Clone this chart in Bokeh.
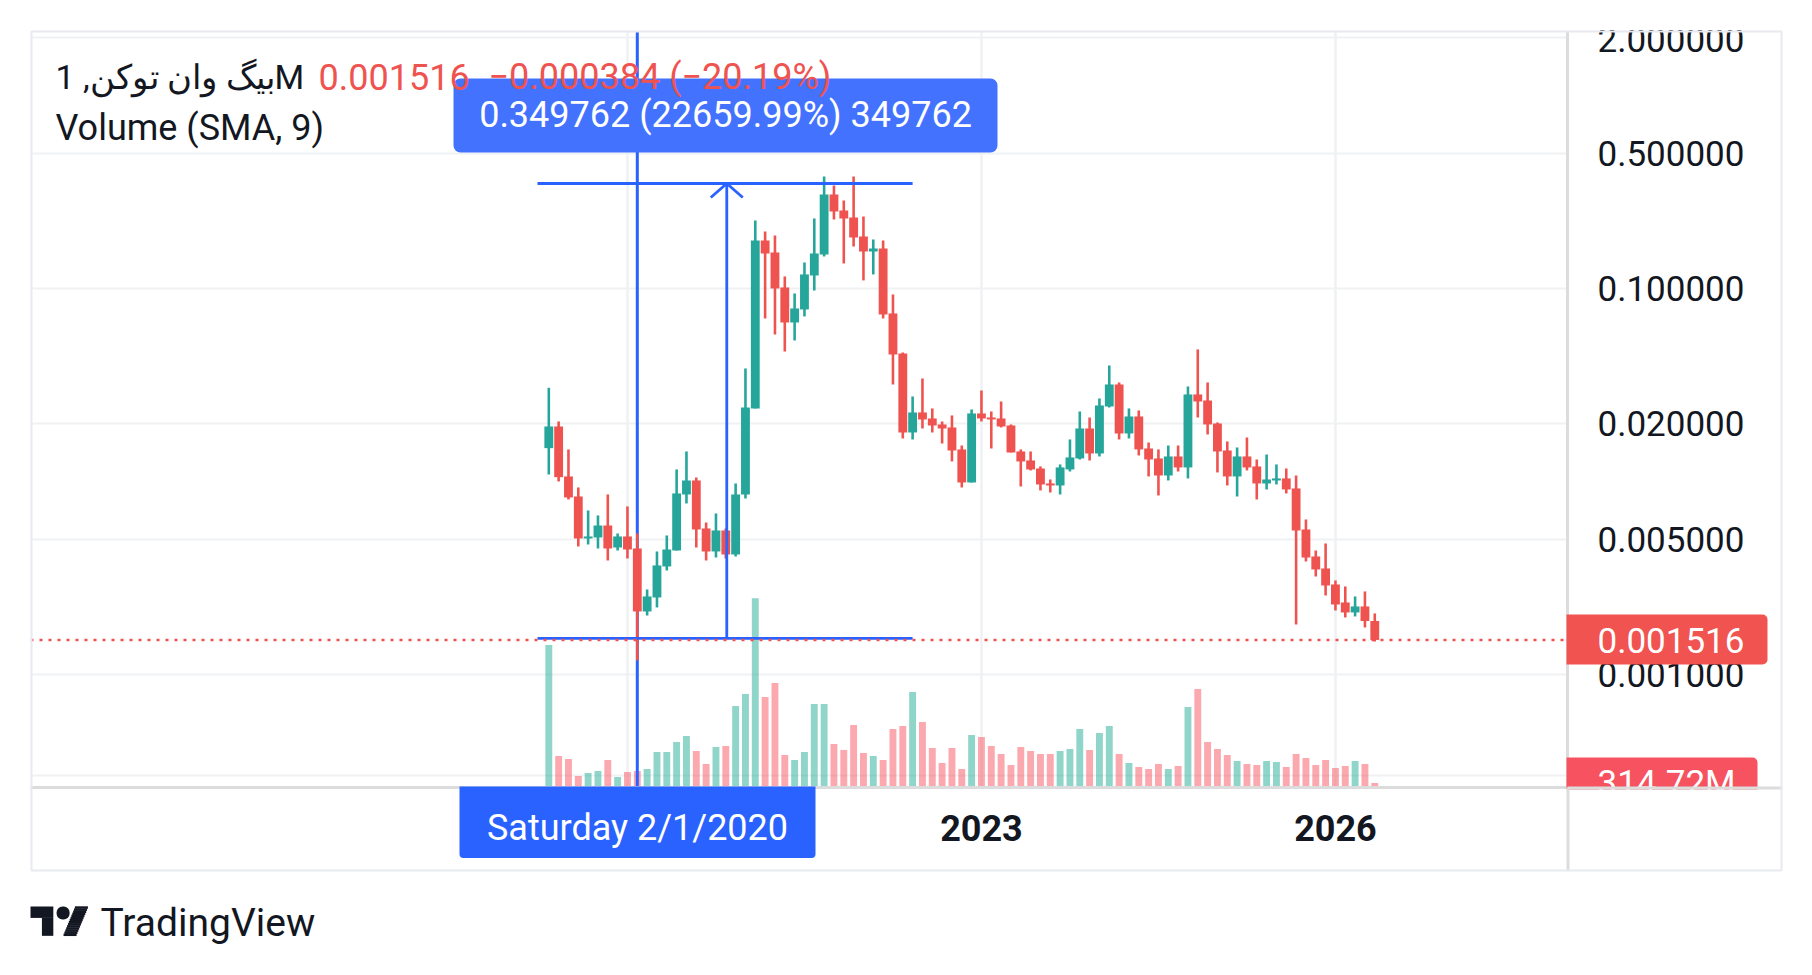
from bokeh.plotting import figure
from bokeh.models import (Range1d, LinearScale, FixedTicker, PrintfTickFormatter,
                          BoxAnnotation, Span, ColumnDataSource)
from bokeh.embed import file_html
from bokeh.resources import INLINE
from bokeh.core.properties import value
import math

# ---------------- data (monthly candles) ----------------
months = [f"{2019 + (4 + k) // 12}-{(4 + k) % 12 + 1:02d}" for k in range(85)]

opens = [0.01494, 0.01935, 0.01066, 0.008395, 0.005086, 0.005147, 0.005937, 0.004567, 0.005209, 0.004513,
         0.002129, 0.002516, 0.003642, 0.004406, 0.008598, 0.01016, 0.005730, 0.004355, 0.005595, 0.004202,
         0.008598, 0.02399, 0.1780, 0.1542, 0.1016, 0.06692, 0.07815, 0.1172, 0.1506, 0.3082,
         0.2546, 0.2342, 0.1867, 0.1561, 0.1618, 0.07452, 0.04622, 0.01801, 0.02287, 0.02129,
         0.01982, 0.01912, 0.01471, 0.009921, 0.02260, 0.02154, 0.02129, 0.01958, 0.01436, 0.01290,
         0.01172, 0.009804, 0.009572, 0.01159, 0.01321, 0.01889, 0.01402, 0.02456, 0.03193, 0.01780,
         0.02180, 0.01488, 0.01321, 0.01078, 0.01353, 0.01187, 0.02835, 0.02638, 0.02005, 0.01453,
         0.01066, 0.01353, 0.01201, 0.009804, 0.01016, 0.01041, 0.009237, 0.005662, 0.004103, 0.003556,
         0.002938, 0.002370, 0.002104, 0.002260, 0.001900]
highs = [0.03069, 0.02054, 0.01471, 0.009346, 0.007105, 0.006692, 0.008598, 0.005398, 0.007452, 0.005398,
         0.002768, 0.004355, 0.005271, 0.01159, 0.01436, 0.01053, 0.006155, 0.006853, 0.005730, 0.009804,
         0.03865, 0.2260, 0.1982, 0.1889, 0.1159, 0.09458, 0.1369, 0.2314, 0.3819, 0.3431,
         0.2869, 0.3819, 0.2370, 0.1801, 0.1780, 0.09346, 0.04678, 0.02768, 0.03431, 0.02399,
         0.02054, 0.02207, 0.01542, 0.02370, 0.02973, 0.02314, 0.02607, 0.01982, 0.01471, 0.01436,
         0.01201, 0.01028, 0.01230, 0.01657, 0.02314, 0.02154, 0.02703, 0.04006, 0.03271, 0.02399,
         0.02342, 0.01598, 0.01471, 0.01542, 0.01542, 0.03119, 0.04850, 0.03271, 0.02029, 0.01618,
         0.01506, 0.01697, 0.01305, 0.01385, 0.01230, 0.01172, 0.01078, 0.006380, 0.004406, 0.004791,
         0.003082, 0.002869, 0.002546, 0.002703, 0.002079]
lows = [0.01091, 0.01004, 0.00810, 0.004622, 0.004734, 0.004513, 0.003911, 0.004406, 0.004006, 0.001187,
        0.002029, 0.002234, 0.003472, 0.004406, 0.007722, 0.004567, 0.003911, 0.004053, 0.004006, 0.004103,
        0.008196, 0.02399, 0.07020, 0.05798, 0.04734, 0.05398, 0.07189, 0.0980, 0.1471, 0.2287,
        0.1353, 0.1657, 0.1105, 0.1187, 0.07020, 0.03193, 0.01677, 0.01657, 0.01889, 0.01801,
        0.01579, 0.01275, 0.009346, 0.009921, 0.02054, 0.01488, 0.01912, 0.01419, 0.009458, 0.01145,
        0.009018, 0.008805, 0.008598, 0.01131, 0.01305, 0.01290, 0.01353, 0.02427, 0.01657, 0.01677,
        0.01369, 0.01066, 0.008496, 0.01016, 0.01131, 0.01041, 0.02154, 0.01759, 0.01118, 0.009572,
        0.008395, 0.01145, 0.00810, 0.009127, 0.009687, 0.008702, 0.001823, 0.003865, 0.003232, 0.002576,
        0.002154, 0.001982, 0.002006, 0.001759, 0.001488]
closes = [0.01935, 0.01057, 0.008295, 0.005086, 0.005209, 0.005937, 0.004513, 0.005209, 0.004459, 0.002129,
          0.002546, 0.003686, 0.004459, 0.008702, 0.01016, 0.005662, 0.004355, 0.005595, 0.004202, 0.008598,
          0.02427, 0.1780, 0.1524, 0.1004, 0.06692, 0.07909, 0.1187, 0.1524, 0.3082, 0.2516,
          0.2314, 0.1845, 0.1561, 0.1618, 0.07362, 0.04567, 0.01801, 0.02287, 0.02104, 0.01958,
          0.01889, 0.01453, 0.009921, 0.02260, 0.02129, 0.02104, 0.01935, 0.01419, 0.01275, 0.01159,
          0.009687, 0.009572, 0.01187, 0.01337, 0.01889, 0.01402, 0.02486, 0.03193, 0.01780, 0.02180,
          0.01471, 0.01305, 0.01078, 0.01353, 0.01187, 0.02835, 0.02607, 0.01982, 0.01436, 0.01066,
          0.01353, 0.01187, 0.009804, 0.01028, 0.01041, 0.009127, 0.005595, 0.004053, 0.003514, 0.002903,
          0.002314, 0.002104, 0.002260, 0.001900, 0.001516]
volumes_m = [14805, 3150, 2835, 1050, 1365, 1575, 2730, 945, 1470, 1575,
             1785, 3570, 3570, 4620, 5250, 3675, 2310, 4095, 4200, 8400,
             9660, 19705, 9345, 10815, 3255, 2730, 3570, 8610, 8610, 4410,
             3780, 6405, 3465, 3150, 2730, 5985, 6300, 9870, 6720, 3990,
             2415, 3990, 1785, 5355, 5145, 4200, 3360, 2205, 4095, 3675,
             3360, 3360, 3675, 3885, 5985, 3780, 5565, 6300, 3360, 2415,
             1995, 1785, 2310, 1785, 2100, 8295, 10185, 4620, 3885, 3255,
             2625, 2310, 2205, 2625, 2520, 1995, 3360, 2940, 2205, 2730,
             1890, 2100, 2625, 2310, 314.72]

price_ticks = [0.001, 0.005, 0.02, 0.1, 0.5]
top_price_tick = 2.0
price_grid = [0.0003, 0.001, 0.005, 0.02, 0.1, 0.5, 2.0]
year_labels = {"2023-01": "2023", "2026-01": "2026"}
year_grid = ["2020-01", "2023-01", "2026-01"]

symbol_title = "بیگ وان توکن, 1M"
last_text = "0.001516"
change_text = "\u22120.000384 (\u221220.19%)"
volume_title = "Volume (SMA, 9)"
last_volume_text = "314.72M"
crosshair_month = "2020-02"
crosshair_text = "Saturday 2/1/2020"
measure_low, measure_high = 0.0015435, 0.3513
measure_from, measure_to, measure_at = -1.15, 37.0, 18.1
measure_text = "0.349762 (22659.99%) 349762"
brand_text = "TradingView"

# ---------------- geometry (page pixels) ----------------
CANVAS_X, CANVAS_Y, CANVAS_W, CANVAS_H = 30, 30, 1753, 925
FRAME_L, FRAME_R, FRAME_T, FRAME_B = 30, 1567, 31, 787
BAR0_PX, BAR_PX = 548.3, 9.833
P_REF, P_REF_PX, DEC_PX = 0.1, 288.3, 193.0
VOL_ZERO_PX, VOL_PER_PX = 785.5, 105.0


def xd(px):
    return (px - BAR0_PX) / BAR_PX


def yd(py):
    return P_REF * 10 ** (-(py - P_REF_PX) / DEC_PX)


def py_of(price):
    return P_REF_PX - (math.log10(price) - math.log10(P_REF)) * DEC_PX


GREEN, RED = "#26A69A", "#EF5350"
TEXT = "#131722"
BLUE = "#2962FF"
SEP = "#DCDCDC"

idx = list(range(len(months)))
up = [c >= o for o, c in zip(opens, closes)]
src = ColumnDataSource(dict(
    x=idx, o=opens, h=highs, l=lows, c=closes, vol=volumes_m,
    btop=[max(o, c) for o, c in zip(opens, closes)],
    bbot=[min(o, c) for o, c in zip(opens, closes)],
    color=[GREEN if u else RED for u in up],
    vcolor=["#22AB94" if u else "#F7525F" for u in up],
))

p = figure(width=CANVAS_W, height=CANVAS_H, title=None,
           x_range=Range1d(xd(FRAME_L), xd(FRAME_R)),
           y_range=Range1d(yd(FRAME_B), yd(FRAME_T)),
           y_axis_type="log", y_axis_location="right",
           output_backend="svg", toolbar_location=None,
           min_border_left=0, min_border_top=FRAME_T - CANVAS_Y,
           min_border_right=CANVAS_W - (FRAME_R - CANVAS_X),
           min_border_bottom=CANVAS_H - (FRAME_B - CANVAS_Y),
           margin=(CANVAS_Y, 0, 0, CANVAS_X))
p.background_fill_color = "white"
p.border_fill_color = "white"
p.outline_line_color = None

p.extra_y_ranges = {"vol": Range1d(-(FRAME_B - VOL_ZERO_PX) * VOL_PER_PX,
                                   (VOL_ZERO_PX - FRAME_T) * VOL_PER_PX)}
p.extra_y_scales = {"vol": LinearScale()}

# axes
yax = p.yaxis[0]
yax.ticker = FixedTicker(ticks=price_ticks)
yax.formatter = PrintfTickFormatter(format="%.6f")
yax.major_label_text_font = "Roboto"
yax.major_label_text_font_size = "35px"
yax.major_label_text_color = TEXT
yax.major_tick_line_color = None
yax.minor_tick_line_color = None
yax.major_tick_out = 0
yax.major_label_standoff = 30
yax.axis_line_color = SEP
yax.axis_line_width = 3

xax = p.xaxis[0]
xax.ticker = FixedTicker(ticks=[months.index(m) for m in year_labels])
xax.major_label_overrides = {months.index(m): t for m, t in year_labels.items()}
xax.major_label_text_font = "Roboto"
xax.major_label_text_font_style = "bold"
xax.major_label_text_font_size = "36px"
xax.major_label_text_color = TEXT
xax.major_tick_line_color = None
xax.minor_tick_line_color = None
xax.major_tick_out = 0
xax.major_label_standoff = 27
xax.axis_line_color = SEP
xax.axis_line_width = 3

p.ygrid.ticker = FixedTicker(ticks=price_grid)
p.ygrid.grid_line_color = "#F0F1F3"
p.ygrid.grid_line_width = 2
p.xgrid.ticker = FixedTicker(ticks=[months.index(m) for m in year_grid])
p.xgrid.grid_line_color = "#F0F1F3"
p.xgrid.grid_line_width = 2.5

# volume
p.vbar(x="x", top="vol", bottom=0, width=0.7, source=src, fill_color="vcolor",
       fill_alpha=0.5, line_color=None, y_range_name="vol")

# crosshair (under candles)
cx = months.index(crosshair_month)
p.segment(x0=[cx], x1=[cx], y0=[yd(FRAME_B)], y1=[yd(FRAME_T)], line_color=BLUE, line_width=3)

# candles
p.segment(x0="x", x1="x", y0="l", y1="h", source=src, line_color="color", line_width=2.6)
p.vbar(x="x", top="btop", bottom="bbot", width=0.9, source=src, fill_color="color", line_color=None)

# last price dotted line
p.add_layout(Span(location=closes[-1], dimension="width", line_color=RED,
                  line_dash="3 6", line_width=2.5))

# measure tool
arm_dx = 16 / BAR_PX
arm_y = measure_high * 10 ** (-14 / DEC_PX)
p.segment(x0=[measure_from, measure_from, measure_at, measure_at - arm_dx, measure_at],
          x1=[measure_to, measure_to, measure_at, measure_at, measure_at + arm_dx],
          y0=[measure_high, measure_low, measure_low, arm_y, measure_high],
          y1=[measure_high, measure_low, measure_high, measure_high, arm_y],
          line_color=BLUE, line_width=2.8)
p.add_layout(BoxAnnotation(left=xd(453), right=xd(997), top=yd(78), bottom=yd(152),
                           fill_color="#4372FF", fill_alpha=1, line_color=None, border_radius=7))


# ---- overlay helpers (drawn above everything, also over the axis areas) ----
def ov_box(left, top, right, bottom, fill=None, line=None, line_width=1, radius=0):
    p.quad(left=[xd(left)], right=[xd(right)], top=[yd(top)], bottom=[yd(bottom)],
           fill_color=fill, fill_alpha=1 if fill else 0, line_color=line, line_width=line_width,
           border_radius=radius, level="overlay")


def ov_text(px, py_mid, s, color=TEXT, size="36px", align="left", style="normal"):
    # py_mid: vertical middle of the capitals, in page pixels
    p.text(x=[xd(px)], y=[yd(py_mid)], text=[s], text_color=color, text_font=value("Roboto"),
           text_font_size=value(size), text_align=align, text_baseline="middle",
           text_font_style=style, level="overlay")


ov_text(725, 114, measure_text, color="white", size="36px", align="center")

# legend
ov_text(55, 76.5, symbol_title, size="34px")
ov_text(318, 76.5, last_text, color=RED)
ov_text(488, 76.5, change_text, color=RED)
ov_text(55, 127, volume_title)

# top price tick label, cut by the chart's top edge as in the original
ov_text(1597, py_of(top_price_tick) + 1.5, "%.6f" % top_price_tick, size="35px")

# crosshair date label
ov_box(459, 786, 815, 857.5, fill=BLUE, radius=dict(top_left=0, top_right=0, bottom_right=4, bottom_left=4))
ov_text(637, 827.7, crosshair_text, color="white", size="36px", align="center")

# last price label
ov_box(1566, 614, 1767, 664, fill="#F05350", radius=dict(top_left=0, top_right=5, bottom_right=5, bottom_left=0))
ov_text(1597, 639.5, last_text, color="white", size="35px")

# last volume label (cut by the time axis)
ov_box(1566, 757, 1757, 807, fill="#F7525F", radius=dict(top_left=0, top_right=5, bottom_right=5, bottom_left=0))
ov_text(1597, 782.5, last_volume_text, color="white", size="35px")
ov_box(1560, 789, 1778, 816, fill="white")

# separators extended into the axis areas, outer border
ov_box(1566, 787, 1569, 870, fill=SEP)
ov_box(1567, 786, 1782, 789, fill=SEP)
ov_box(31, 31, 1781, 870, line="#E8EAEF", line_width=2)

# TradingView logo (icon + word mark); icon outline in its own 36x28 units
LOGO_X, LOGO_Y, LOGO_S = 30, 906, 1.63
logo_rects = [(0, 4, 14, 11), (7, 11, 14, 22)]          # the "T"
logo_dot = (16, 4, 24, 12)                               # round dot
logo_slash_top, logo_slash_bottom = (27.5, 35.5), (20, 28)  # x extents of the slanted bar at y=4 and y=22


def lpx(u):
    return LOGO_X + LOGO_S * u


def lpy(v):
    return LOGO_Y + LOGO_S * (v - 4)


for a, b, c, d in logo_rects:
    ov_box(lpx(a), lpy(b), lpx(c), lpy(d), fill=TEXT)
ov_box(lpx(logo_dot[0]), lpy(logo_dot[1]), lpx(logo_dot[2]), lpy(logo_dot[3]), fill=TEXT, radius=6)
n_slices = 14
for k in range(n_slices):
    v0 = 4 + 18 * k / n_slices
    v1 = 4 + 18 * (k + 1) / n_slices
    t = (k + 0.5) / n_slices
    left = logo_slash_top[0] + (logo_slash_bottom[0] - logo_slash_top[0]) * t
    right = logo_slash_top[1] + (logo_slash_bottom[1] - logo_slash_top[1]) * t
    ov_box(lpx(left), lpy(v0) - 0.2, lpx(right), lpy(v1) + 0.2, fill=TEXT)
ov_text(100, 922, brand_text, size="39px")

open("out.html", "w").write(file_html(p, INLINE))
